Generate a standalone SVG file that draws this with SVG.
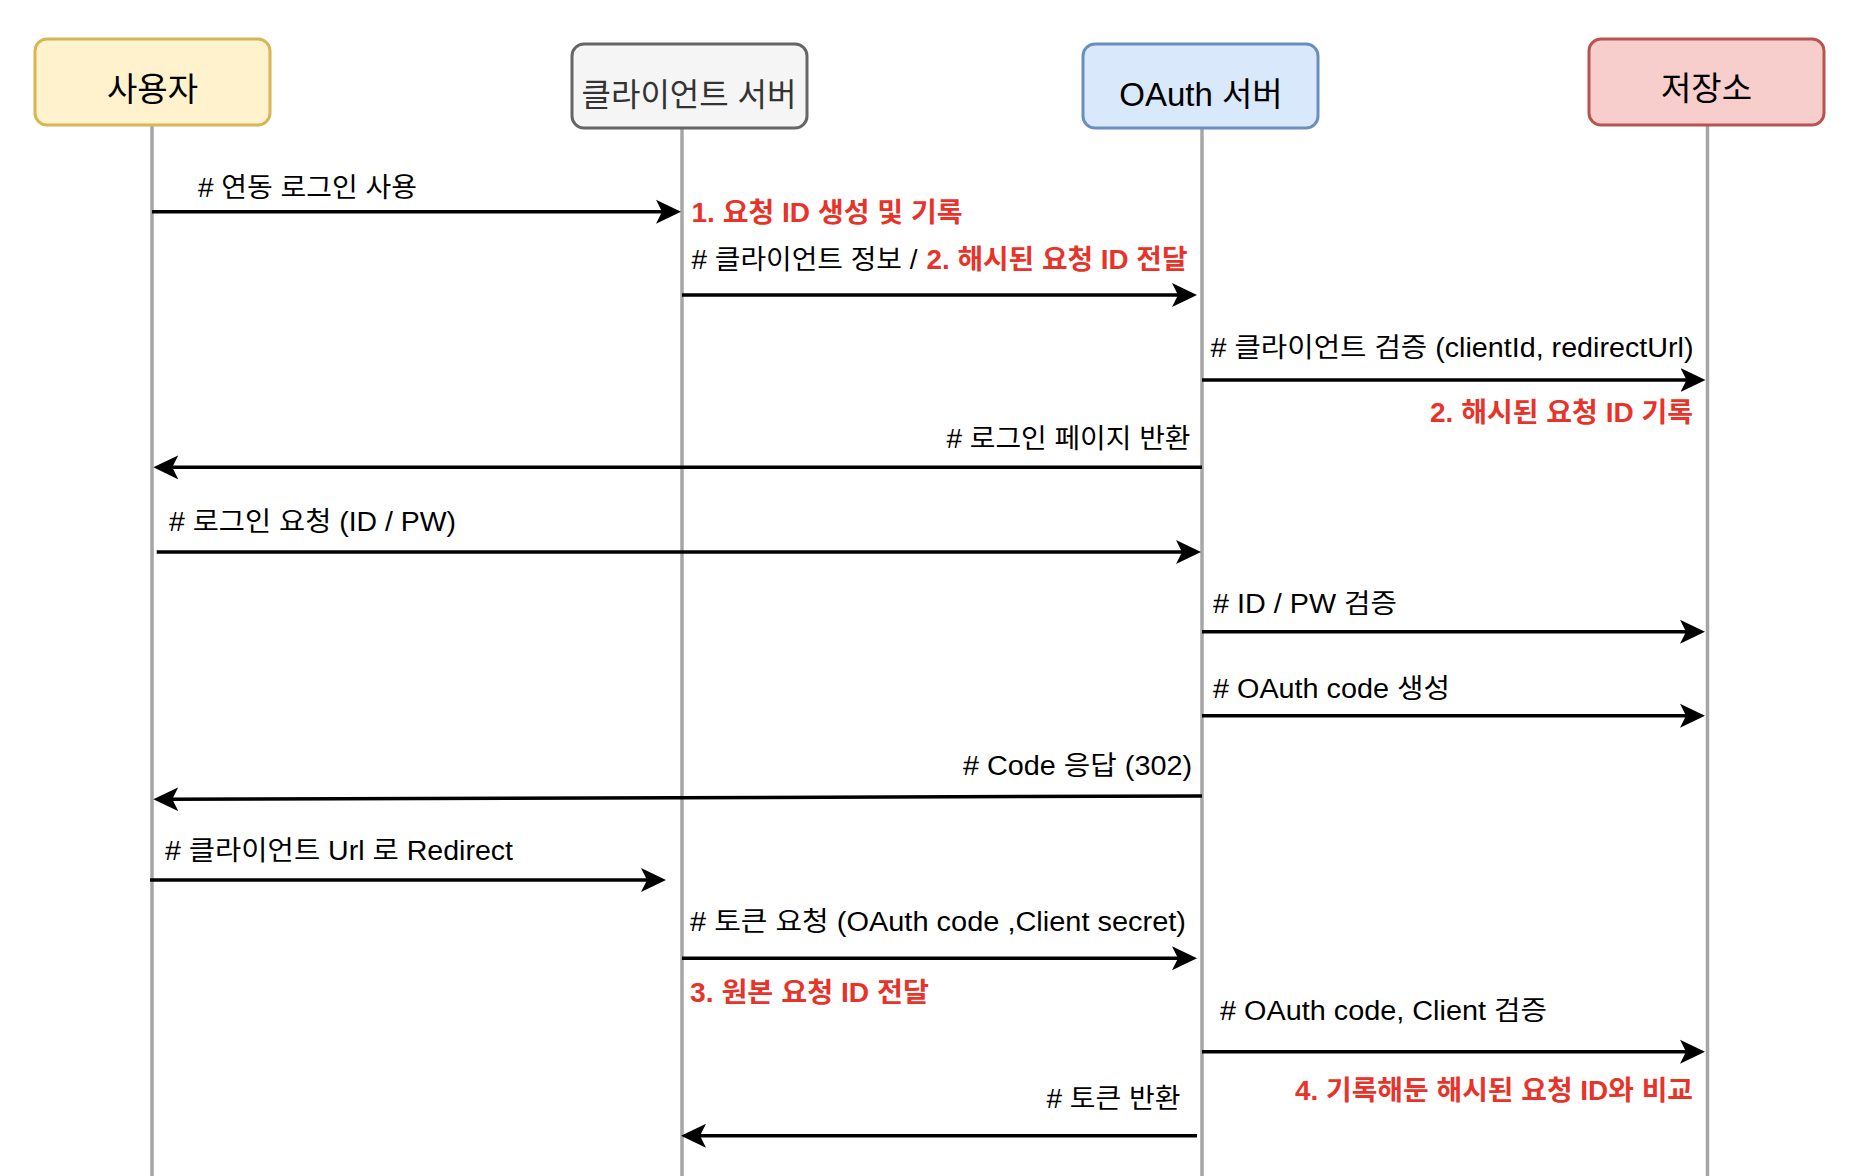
<svg xmlns="http://www.w3.org/2000/svg" width="1858" height="1176" viewBox="0 0 1858 1176">
<defs>
<style>
.bg{fill:#ffffff}
.life{stroke:#a6a6a6;stroke-width:3.5;fill:none}
.box{stroke-width:3}
.btxt{font-family:"Liberation Sans","Noto Sans CJK KR",sans-serif;font-size:33px;text-anchor:middle}
.msg{stroke:#000;stroke-width:3.5;fill:none;marker-end:url(#arr)}
.lbl{font-family:"Liberation Sans","Noto Sans CJK KR",sans-serif;font-size:27px;fill:#000}
.red{font-weight:bold;fill:#e8332a}
</style>
<marker id="arr" markerUnits="userSpaceOnUse" viewBox="0 0 26 26" refX="15" refY="13" markerWidth="26" markerHeight="26" orient="auto">
<path d="M0,1 L25,13 L0,25 L6,13 Z" fill="#000"/>
</marker>
</defs>
<rect class="bg" x="0" y="0" width="1858" height="1176"/>

<g id="node-user">
<line class="life" x1="152" y1="126" x2="152" y2="1176"/>
<rect class="box" x="35" y="39" width="235" height="86" rx="12" fill="#fff2cc" stroke="#d6b656"/>
<text class="btxt" x="152.5" y="100.5" fill="#000">사용자</text>
</g>
<g id="node-client">
<line class="life" x1="682" y1="129" x2="682" y2="1176"/>
<rect class="box" x="572" y="44" width="235" height="84" rx="12" fill="#f5f5f5" stroke="#666666"/>
<text class="btxt" x="689" y="105.5" fill="#333333" style="font-size:32px">클라이언트 서버</text>
</g>
<g id="node-oauth">
<line class="life" x1="1202" y1="129" x2="1202" y2="1176"/>
<rect class="box" x="1083" y="44" width="235" height="84" rx="12" fill="#dae8fc" stroke="#6c8ebf"/>
<text class="btxt" x="1201" y="105.5" fill="#000">OAuth 서버</text>
</g>
<g id="node-storage">
<line class="life" x1="1707.5" y1="126" x2="1707.5" y2="1176"/>
<rect class="box" x="1589" y="39" width="235" height="86" rx="12" fill="#f8cecc" stroke="#b85450"/>
<text class="btxt" x="1706.5" y="99.5" fill="#000">저장소</text>
</g>

<g id="connectors">
<g id="m1">
<line class="msg" x1="152" y1="211.7" x2="671" y2="211.7"/>
<text class="lbl" x="198" y="197" textLength="219" lengthAdjust="spacingAndGlyphs"># 연동 로그인 사용</text>
<text class="lbl red" x="691.5" y="222" textLength="271" lengthAdjust="spacingAndGlyphs">1. 요청 ID 생성 및 기록</text>
</g>
<g id="m2">
<line class="msg" x1="682" y1="295" x2="1187" y2="295"/>
<text class="lbl" x="691.5" y="269.3" textLength="226" lengthAdjust="spacingAndGlyphs"># 클라이언트 정보 /</text>
<text class="lbl red" x="926.5" y="269.3" textLength="261" lengthAdjust="spacingAndGlyphs">2. 해시된 요청 ID 전달</text>
</g>
<g id="m3">
<line class="msg" x1="1202" y1="380" x2="1695.5" y2="380"/>
<text class="lbl" x="1210.5" y="357" textLength="483" lengthAdjust="spacingAndGlyphs"># 클라이언트 검증 (clientId, redirectUrl)</text>
<text class="lbl red" x="1430" y="421.7" textLength="263" lengthAdjust="spacingAndGlyphs">2. 해시된 요청 ID 기록</text>
</g>
<g id="m4">
<line class="msg" x1="1202" y1="467.3" x2="163.3" y2="467.3"/>
<text class="lbl" x="946.5" y="448.3" textLength="244" lengthAdjust="spacingAndGlyphs"># 로그인 페이지 반환</text>
</g>
<g id="m5">
<line class="msg" x1="156.7" y1="552" x2="1191" y2="552"/>
<text class="lbl" x="169" y="531" textLength="287" lengthAdjust="spacingAndGlyphs"># 로그인 요청 (ID / PW)</text>
</g>
<g id="m6">
<line class="msg" x1="1202" y1="631.7" x2="1695" y2="631.7"/>
<text class="lbl" x="1213" y="613.3" textLength="184" lengthAdjust="spacingAndGlyphs"># ID / PW 검증</text>
</g>
<g id="m7">
<line class="msg" x1="1202" y1="715.7" x2="1695" y2="715.7"/>
<text class="lbl" x="1213" y="698.3" textLength="237" lengthAdjust="spacingAndGlyphs"># OAuth code 생성</text>
</g>
<g id="m8">
<line class="msg" x1="1202" y1="796" x2="163.3" y2="799.3"/>
<text class="lbl" x="963" y="775" textLength="229" lengthAdjust="spacingAndGlyphs"># Code 응답 (302)</text>
</g>
<g id="m9">
<line class="msg" x1="150" y1="880" x2="656" y2="880"/>
<text class="lbl" x="165" y="860" textLength="348" lengthAdjust="spacingAndGlyphs"># 클라이언트 Url 로 Redirect</text>
</g>
<g id="m10">
<line class="msg" x1="682" y1="958.3" x2="1187" y2="958.3"/>
<text class="lbl" x="690" y="931" textLength="496" lengthAdjust="spacingAndGlyphs"># 토큰 요청 (OAuth code ,Client secret)</text>
<text class="lbl red" x="690" y="1001.7" textLength="239" lengthAdjust="spacingAndGlyphs">3. 원본 요청 ID 전달</text>
</g>
<g id="m11">
<line class="msg" x1="1202" y1="1051.7" x2="1695" y2="1051.7"/>
<text class="lbl" x="1220" y="1020" textLength="327" lengthAdjust="spacingAndGlyphs"># OAuth code, Client 검증</text>
<text class="lbl red" x="1295" y="1100" textLength="398" lengthAdjust="spacingAndGlyphs">4. 기록해둔 해시된 요청 ID와 비교</text>
</g>
<g id="m12">
<line class="msg" x1="1197" y1="1135.7" x2="691" y2="1135.7"/>
<text class="lbl" x="1046.5" y="1108.3" textLength="134" lengthAdjust="spacingAndGlyphs"># 토큰 반환</text>
</g>
</g>
</svg>
